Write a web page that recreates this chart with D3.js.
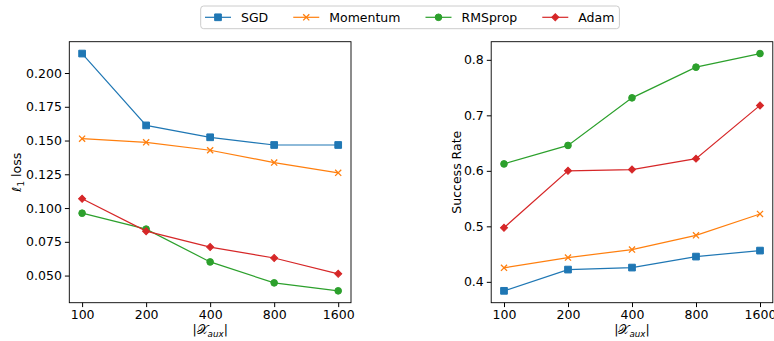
<!DOCTYPE html>
<html>
<head>
<meta charset="utf-8">
<script src="https://cdn.jsdelivr.net/npm/d3@7"></script>
<style>
  body { margin: 0; background: #fff; }
  svg { display: block; font-family: "DejaVu Sans", sans-serif; }
</style>
</head>
<body>
<div id="chart"></div>
<script>
// x categories: |X_aux|
const sizes = ['100', '200', '400', '800', '1600'];
const optimizers = ['SGD', 'Momentum', 'RMSprop', 'Adam'];
const colors = ['#1f77b4', '#ff7f0e', '#2ca02c', '#d62728'];

// left panel: l1 loss
const sgdLoss = [0.2144, 0.1612, 0.1524, 0.1467, 0.1467];
const momentumLoss = [0.1514, 0.1487, 0.1428, 0.1337, 0.1261];
const rmspropLoss = [0.0962, 0.0844, 0.0601, 0.0446, 0.0387];
const adamLoss = [0.1069, 0.0829, 0.0711, 0.0630, 0.0513];

// right panel: success rate
const sgdSuccess = [0.3838, 0.4221, 0.4257, 0.4455, 0.4563];
const momentumSuccess = [0.4252, 0.4437, 0.4581, 0.4838, 0.5223];
const rmspropSuccess = [0.6125, 0.6458, 0.7315, 0.7868, 0.8113];
const adamSuccess = [0.4975, 0.6000, 0.6023, 0.6220, 0.7179];

const lossTicks = [0.050, 0.075, 0.100, 0.125, 0.150, 0.175, 0.200];
const successTicks = [0.4, 0.5, 0.6, 0.7, 0.8];

const W = 774, H = 341;
const FONT = 12.5;
const TICK = 4.4;

const svg = d3.select('#chart').append('svg')
  .attr('width', W).attr('height', H);

// marker shapes, matplotlib style: s, x, o, D
const markerPath = [
  d3.symbol(d3.symbolSquare, 45)(),
  d3.symbol(d3.symbolX || d3.symbolTimes, 26)(),
  d3.symbol(d3.symbolCircle, 35)(),
  d3.symbol(d3.symbolSquare, 25)(),
];
const markerRotate = [0, 0, 0, 45];
const markerFilled = [true, false, true, true];

function drawMarker(g, i, x, y) {
  g.append('path')
    .attr('d', markerPath[i])
    .attr('transform', `translate(${x},${y}) rotate(${markerRotate[i]})`)
    .attr('fill', markerFilled[i] ? colors[i] : 'none')
    .attr('stroke', colors[i])
    .attr('stroke-width', markerFilled[i] ? 1 : 1.3);
}

function panel(left, right, series, ticks, fmt, ylabel, ylabelX) {
  const top = 41.7, bottom = 302.7;
  const all = series.flat();
  const lo = d3.min(all), hi = d3.max(all);
  const m = (hi - lo) * 0.05;

  const x = d3.scalePoint().domain(sizes).range([left, right]).padding(0.2);
  const y = d3.scaleLinear().domain([lo - m, hi + m]).range([bottom, top]);

  const g = svg.append('g');

  // lines + markers
  series.forEach((vals, i) => {
    const line = d3.line().x((d, j) => x(sizes[j])).y(d => y(d));
    g.append('path')
      .attr('d', line(vals))
      .attr('fill', 'none')
      .attr('stroke', colors[i])
      .attr('stroke-width', 1.2);
    const mg = g.append('g');
    vals.forEach((v, j) => drawMarker(mg, i, x(sizes[j]), y(v)));
  });

  // frame
  g.append('rect')
    .attr('x', left).attr('y', top)
    .attr('width', right - left).attr('height', bottom - top)
    .attr('fill', 'none').attr('stroke', '#000').attr('stroke-width', 0.9);

  const xAxis = d3.axisBottom(x).tickSize(TICK).tickPadding(3.5);
  g.append('g').attr('transform', `translate(0,${bottom})`).call(xAxis)
    .call(a => a.select('.domain').remove())
    .call(a => a.selectAll('text').attr('font-size', FONT).attr('fill', '#000')
      .attr('font-family', '"DejaVu Sans", sans-serif'));

  const yAxis = d3.axisLeft(y).tickValues(ticks).tickFormat(d3.format(fmt))
    .tickSize(TICK).tickPadding(3);
  g.append('g').attr('transform', `translate(${left},0)`).call(yAxis)
    .call(a => a.select('.domain').remove())
    .call(a => a.selectAll('text').attr('font-size', FONT).attr('fill', '#000')
      .attr('font-family', '"DejaVu Sans", sans-serif'));

  // y label
  const yl = g.append('text')
    .attr('transform', `translate(${ylabelX},${(top + bottom) / 2}) rotate(-90)`)
    .attr('text-anchor', 'middle')
    .attr('font-size', FONT);
  ylabel(yl);

  // x label |X_aux|
  const xl = g.append('text')
    .attr('x', (left + right) / 2).attr('y', 334)
    .attr('text-anchor', 'middle')
    .attr('font-size', FONT);
  xl.append('tspan').text('|');
  xl.append('tspan').attr('font-family', '"DejaVu Serif", serif').text('𝒳');
  xl.append('tspan').attr('font-size', FONT * 0.7).attr('font-style', 'italic')
    .attr('dy', 3).text('aux');
  xl.append('tspan').attr('dy', -3).text('|');
}

panel(69.3, 351, [sgdLoss, momentumLoss, rmspropLoss, adamLoss],
  lossTicks, '.3f', t => {
    t.append('tspan').attr('font-style', 'italic').text('ℓ');
    t.append('tspan').attr('font-size', FONT * 0.7).attr('dy', 3).text('1');
    t.append('tspan').attr('dy', -3).text(' loss');
  }, 21);

panel(491.2, 772.8, [sgdSuccess, momentumSuccess, rmspropSuccess, adamSuccess],
  successTicks, '.1f', t => t.text('Success Rate'), 460.5);

// legend
const leg = svg.append('g');
const box = leg.append('rect')
  .attr('y', 6).attr('height', 22.7).attr('rx', 3)
  .attr('fill', '#fff').attr('stroke', '#ccc').attr('stroke-width', 1);
let lx = 205;
optimizers.forEach((name, i) => {
  leg.append('line')
    .attr('x1', lx).attr('x2', lx + 26).attr('y1', 17.3).attr('y2', 17.3)
    .attr('stroke', colors[i]).attr('stroke-width', 1.2);
  drawMarker(leg, i, lx + 13, 17.3);
  const t = leg.append('text')
    .attr('x', lx + 36).attr('y', 17.3).attr('dy', '0.35em')
    .attr('font-size', FONT).text(name);
  lx += 36 + t.node().getComputedTextLength() + 25;
});
box.attr('x', 200.7).attr('width', lx - 25 + 5 - 200.7);
</script>
</body>
</html>
